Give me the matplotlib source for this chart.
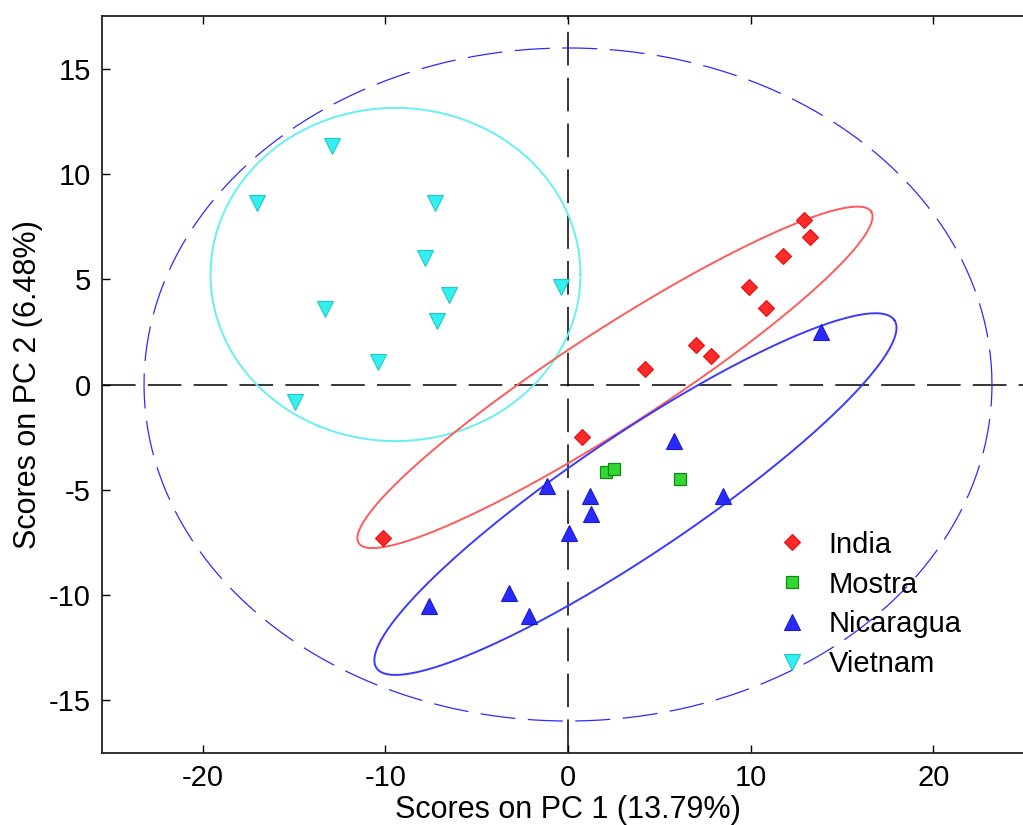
import numpy as np
import matplotlib
matplotlib.use("Agg")
import matplotlib.pyplot as plt
from matplotlib.lines import Line2D

plt.rcParams['font.family'] = ['Liberation Sans', 'DejaVu Sans']
plt.rcParams['axes.unicode_minus'] = False

# ---- data (scores) ----
india_x = [12.94, 13.22, 11.79, 9.93, 10.86, 7.03, 7.80, 4.19, 0.74, -10.10]
india_y = [7.82, 7.01, 6.11, 4.64, 3.64, 1.88, 1.36, 0.74, -2.50, -7.30]

mostra_x = [2.09, 2.54, 6.14]
mostra_y = [-4.18, -4.02, -4.51]

nicaragua_x = [13.85, 5.79, -1.14, 1.18, 1.27, 0.04, 8.47, -3.24, -7.58, -2.14]
nicaragua_y = [2.48, -2.67, -4.83, -5.30, -6.16, -7.08, -5.30, -9.90, -10.53, -11.01]

vietnam_x = [-12.92, -17.03, -7.29, -7.84, -6.52, -0.37, -13.27, -7.18, -10.42, -14.95]
vietnam_y = [11.34, 8.62, 8.62, 6.03, 4.26, 4.65, 3.58, 3.02, 1.08, -0.82]

# confidence ellipses: centre, semi-axis vector 1, semi-axis vector 2 (data units)
india_ell = [(2.57, 0.34), (14.02, 7.88), (-1.43, 1.95)]
nicaragua_ell = [(3.69, -5.21), (14.17, 8.27), (-1.82, 2.35)]
vietnam_ell = [(-9.44, 5.23), (10.12, 0.0), (0.0, 7.92)]
limit_ell = [(0.0, 0.0), (23.2, 0.0), (0.0, 16.0)]

labels = ["India", "Mostra", "Nicaragua", "Vietnam"]
xticks = [-20, -10, 0, 10, 20]
yticks = [-15, -10, -5, 0, 5, 10, 15]
xlabel = "Scores on PC 1 (13.79%)"
ylabel = "Scores on PC 2 (6.48%)"

# ---- figure ----
W, H = 1023, 825
fig = plt.figure(figsize=(W / 100, H / 100), dpi=100)
ax = fig.add_axes([102 / W, 72 / H, 932 / W, 737 / H])
ax.set_xlim(-25.5, 25.5)
ax.set_ylim(-17.52, 17.52)

def ellipse(params):
    (cx, cy), (mx, my), (nx, ny) = params
    t = np.linspace(0, 2 * np.pi, 400)
    return cx + mx * np.cos(t) + nx * np.sin(t), cy + my * np.cos(t) + ny * np.sin(t)

# axes cross-hair
ax.axhline(0, color='black', lw=1.1, dashes=(22, 8), zorder=1)
ax.axvline(0, color='black', lw=1.1, dashes=(22, 8), zorder=1)

# limit ellipse (dashed)
ex, ey = ellipse(limit_ell)
ax.plot(ex, ey, color='#2b2bff', lw=0.9, dashes=(28, 10), zorder=2)

ex, ey = ellipse(vietnam_ell)
ax.plot(ex, ey, color='#66f0f0', lw=1.4, zorder=2)
ex, ey = ellipse(india_ell)
ax.plot(ex, ey, color='#ff5a5a', lw=1.4, zorder=2)
ex, ey = ellipse(nicaragua_ell)
ax.plot(ex, ey, color='#3a3aff', lw=1.4, zorder=2)

sty_india = dict(marker='D', ms=8.5, mfc='#ff2a2a', mec='#e01010', mew=0.8)
sty_mostra = dict(marker='s', ms=9, mfc='#33d633', mec='#118811', mew=0.9)
sty_nic = dict(marker='^', ms=11, mfc='#2a2aff', mec='#1a1ad0', mew=0.8)
sty_viet = dict(marker='v', ms=11, mfc='#33f0f0', mec='#22c8c8', mew=0.8)

ax.plot(india_x, india_y, ls='none', zorder=3, **sty_india)
ax.plot(mostra_x, mostra_y, ls='none', zorder=3, **sty_mostra)
ax.plot(nicaragua_x, nicaragua_y, ls='none', zorder=3, **sty_nic)
ax.plot(vietnam_x, vietnam_y, ls='none', zorder=3, **sty_viet)

handles = [Line2D([], [], ls='none', **s) for s in (sty_india, sty_mostra, sty_nic, sty_viet)]
leg = ax.legend(handles, labels, loc='upper left', bbox_to_anchor=(763 / W, 1 - 516 / H),
                bbox_transform=fig.transFigure, frameon=False, fontsize=21,
                handlelength=1.0, handletextpad=0.75, labelspacing=0.41, borderpad=0)

ax.set_xticks(xticks)
ax.set_yticks(yticks)
ax.tick_params(direction='in', top=True, right=False, length=6, width=1.0,
               labelsize=21, pad=8, colors='black')
for side in ['left', 'bottom', 'top']:
    ax.spines[side].set_linewidth(1.3)
    ax.spines[side].set_color('#222222')
ax.spines['right'].set_visible(False)

ax.set_xlabel(xlabel, fontsize=22, labelpad=2)
ax.set_ylabel(ylabel, fontsize=22, labelpad=4)

fig.savefig('out.png', dpi=100)
